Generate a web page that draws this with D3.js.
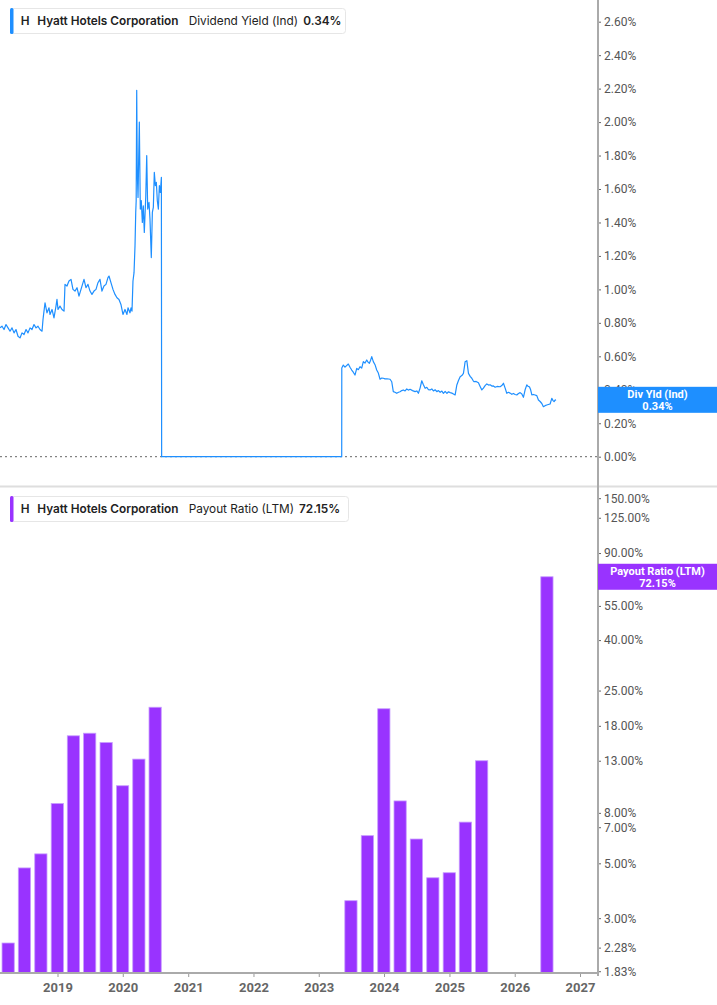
<!DOCTYPE html>
<html>
<head>
<meta charset="utf-8">
<script src="https://cdn.jsdelivr.net/npm/d3@7"></script>
<style>
  body { margin: 0; background: #fff; }
  svg { display: block; }
</style>
</head>
<body>
<div id="chart"></div>
<script>
// Dividend yield (Ind), decimal years -> %
const yieldYears = [
  2018.119, 2018.150, 2018.181, 2018.211, 2018.242, 2018.273, 2018.303, 2018.334, 2018.364, 2018.395,
  2018.426, 2018.456, 2018.487, 2018.518, 2018.548, 2018.579, 2018.609, 2018.640, 2018.671, 2018.701,
  2018.732, 2018.763, 2018.778, 2018.793, 2018.809, 2018.839, 2018.870, 2018.885, 2018.916, 2018.946,
  2018.977, 2018.992, 2019.008, 2019.038, 2019.069, 2019.100, 2019.115, 2019.145, 2019.176, 2019.207,
  2019.237, 2019.268, 2019.299, 2019.329, 2019.360, 2019.406, 2019.436, 2019.467, 2019.498, 2019.528,
  2019.559, 2019.590, 2019.620, 2019.651, 2019.681, 2019.712, 2019.743, 2019.773, 2019.789, 2019.819,
  2019.850, 2019.881, 2019.911, 2019.942, 2019.972, 2020.003, 2020.034, 2020.064, 2020.080, 2020.110,
  2020.126, 2020.141, 2020.156, 2020.172, 2020.187, 2020.198, 2020.205, 2020.213, 2020.222, 2020.233,
  2020.253, 2020.268, 2020.283, 2020.299, 2020.314, 2020.329, 2020.351, 2020.366, 2020.381, 2020.401,
  2020.416, 2020.436, 2020.452, 2020.467, 2020.482, 2020.498, 2020.513, 2020.528, 2020.544, 2020.559,
  2020.574, 2020.590, 2020.594, 2023.352, 2023.353,
  2023.376, 2023.402, 2023.453, 2023.479, 2023.505, 2023.529, 2023.555, 2023.582, 2023.606, 2023.632,
  2023.658, 2023.683, 2023.709, 2023.735, 2023.755, 2023.775, 2023.793, 2023.812, 2023.836, 2023.862,
  2023.888, 2023.913, 2023.939, 2023.965, 2023.990, 2024.015, 2024.046, 2024.092, 2024.118, 2024.142,
  2024.168, 2024.194, 2024.222, 2024.245, 2024.271, 2024.295, 2024.322, 2024.348, 2024.372, 2024.398,
  2024.436, 2024.475, 2024.501, 2024.525, 2024.551, 2024.577, 2024.602, 2024.628, 2024.654, 2024.679,
  2024.704, 2024.730, 2024.755, 2024.781, 2024.807, 2024.832, 2024.858, 2024.884, 2024.908, 2024.934,
  2024.961, 2024.985, 2025.011, 2025.037, 2025.061, 2025.087, 2025.113, 2025.138, 2025.164, 2025.190,
  2025.214, 2025.230, 2025.240, 2025.266, 2025.291, 2025.317, 2025.342, 2025.362, 2025.378, 2025.408,
  2025.444, 2025.470, 2025.496, 2025.520, 2025.546, 2025.572, 2025.600, 2025.623, 2025.649, 2025.673,
  2025.700, 2025.730, 2025.776, 2025.802, 2025.827, 2025.853, 2025.878, 2025.903, 2025.930, 2025.955,
  2025.980, 2026.006, 2026.032, 2026.057, 2026.083, 2026.109, 2026.133, 2026.159, 2026.185, 2026.205,
  2026.225, 2026.244, 2026.262, 2026.286, 2026.312, 2026.338, 2026.363, 2026.389, 2026.415, 2026.439,
  2026.465, 2026.491, 2026.515, 2026.542, 2026.568, 2026.587, 2026.603, 2026.618, 2026.633
];
const yieldValues = [
  0.77, 0.78, 0.76, 0.79, 0.77, 0.75, 0.77, 0.74, 0.76, 0.72,
  0.71, 0.74, 0.73, 0.76, 0.74, 0.77, 0.76, 0.79, 0.77, 0.78,
  0.76, 0.75, 0.82, 0.87, 0.92, 0.86, 0.89, 0.85, 0.88, 0.83,
  0.90, 0.94, 0.88, 0.90, 0.88, 0.87, 1.03, 1.02, 1.05, 1.06,
  1.00, 0.99, 1.01, 0.96, 1.00, 1.06, 1.01, 1.03, 0.99, 0.97,
  0.99, 1.00, 1.04, 1.06, 0.99, 1.02, 1.03, 1.07, 1.08, 1.04,
  1.00, 0.97, 0.95, 0.94, 0.91, 0.85, 0.88, 0.85, 0.89, 0.86,
  0.89, 0.87, 1.05, 1.10, 1.26, 1.46, 1.53, 2.19, 1.70, 1.55,
  2.00, 1.48, 1.53, 1.40, 1.50, 1.34, 1.55, 1.80, 1.48, 1.52,
  1.42, 1.19, 1.46, 1.49, 1.70, 1.62, 1.64, 1.53, 1.48, 1.62,
  1.58, 1.67, 0.00, 0.00, 0.53,
  0.548, 0.535, 0.554, 0.535, 0.518, 0.505, 0.488, 0.528, 0.520, 0.538,
  0.530, 0.568, 0.560, 0.578, 0.565, 0.558, 0.575, 0.598, 0.568, 0.550,
  0.518, 0.500, 0.463, 0.470, 0.469, 0.465, 0.466, 0.463, 0.448, 0.389,
  0.385, 0.379, 0.385, 0.388, 0.395, 0.399, 0.393, 0.405, 0.398, 0.403,
  0.395, 0.389, 0.393, 0.379, 0.410, 0.454, 0.430, 0.409, 0.415, 0.400,
  0.399, 0.405, 0.393, 0.400, 0.389, 0.395, 0.385, 0.392, 0.379, 0.390,
  0.378, 0.388, 0.383, 0.380, 0.375, 0.369, 0.429, 0.455, 0.478, 0.485,
  0.498, 0.540, 0.568, 0.574, 0.498, 0.480, 0.469, 0.455, 0.448, 0.450,
  0.442, 0.420, 0.399, 0.410, 0.425, 0.435, 0.428, 0.430, 0.422, 0.423,
  0.415, 0.420, 0.418, 0.425, 0.439, 0.410, 0.379, 0.385, 0.380, 0.373,
  0.378, 0.372, 0.369, 0.378, 0.383, 0.375, 0.355, 0.400, 0.429, 0.420,
  0.418, 0.400, 0.369, 0.372, 0.369, 0.365, 0.339, 0.330, 0.318, 0.299,
  0.305, 0.309, 0.312, 0.315, 0.349, 0.335, 0.329, 0.338, 0.340
];
const yieldTicks = [0, 0.2, 0.4, 0.6, 0.8, 1.0, 1.2, 1.4, 1.6, 1.8, 2.0, 2.2, 2.4, 2.6];

// Payout ratio (LTM), quarter ends -> %
const payoutDates = [
  "2018-03-31", "2018-06-30", "2018-09-30", "2018-12-31", "2019-03-31",
  "2019-06-30", "2019-09-30", "2019-12-31", "2020-03-31", "2020-06-30",
  "2023-06-30", "2023-09-30", "2023-12-31", "2024-03-31", "2024-06-30",
  "2024-09-30", "2024-12-31", "2025-03-31", "2025-06-30", "2026-06-30"
];
const payoutValues = [
  2.38, 4.79, 5.46, 8.73, 16.4,
  16.8, 15.4, 10.3, 13.2, 21.4,
  3.53, 6.47, 21.1, 8.94, 6.27,
  4.37, 4.58, 7.34, 13.0, 72.15
];
const payoutTicks = [1.83, 2.28, 3, 5, 7, 8, 13, 18, 25, 40, 55, 90, 125, 150];

const yearTicks = [2019, 2020, 2021, 2022, 2023, 2024, 2025, 2026, 2027];

const width = 717, height = 1005;
const axisX = 598;
const blue = "#1e8fff", purple = "#9933ff";

function yearToDate(y) {
    let yr = Math.floor(y);
    let a = new Date(yr, 0, 1), b = new Date(yr + 1, 0, 1);
    return new Date(+a + (y - yr) * (b - a));
}

let svg = d3.select("#chart")
    .append("svg")
        .attr("width", width)
        .attr("height", height)
        .style("font-family", "Roboto, 'Liberation Sans', sans-serif");

let x = d3.scaleTime()
    .domain([new Date(2019, 0, 1), new Date(2027, 0, 1)])
    .range([57.5, 580]);

let yTop = d3.scaleLinear()
    .domain([0, 2.6])
    .range([456.7, 21.7]);

let yBot = d3.scaleLog()
    .domain([1.8, 150])
    .range([973, 498.2]);

svg.append("clipPath").attr("id", "clip-top")
    .append("rect").attr("x", 0).attr("y", 0).attr("width", axisX).attr("height", 485);
svg.append("clipPath").attr("id", "clip-bot")
    .append("rect").attr("x", 0).attr("y", 488).attr("width", axisX).attr("height", 485);

// ---- top panel ----
svg.append("line")
    .attr("x1", 0).attr("x2", axisX)
    .attr("y1", yTop(0)).attr("y2", yTop(0))
    .attr("stroke", "#666")
    .attr("stroke-width", 1)
    .attr("stroke-dasharray", "2,3");

let yieldData = yieldYears.map((t, i) => ({ date: yearToDate(t), value: yieldValues[i] }));

let line = d3.line()
    .x(d => x(d.date))
    .y(d => yTop(d.value));

svg.append("path")
    .datum(yieldData)
    .attr("clip-path", "url(#clip-top)")
    .attr("fill", "none")
    .attr("stroke", blue)
    .attr("stroke-width", 1.2)
    .attr("stroke-linejoin", "round")
    .attr("d", line);

// separator between panels
svg.append("line")
    .attr("x1", 0).attr("x2", width)
    .attr("y1", 486.5).attr("y2", 486.5)
    .attr("stroke", "#dedede")
    .attr("stroke-width", 2);

// ---- bottom panel ----
let payoutData = payoutDates.map((d, i) => ({ date: new Date(d), value: payoutValues[i] }));
let barW = (x(new Date(2019, 3, 1)) - x(new Date(2019, 0, 1))) * 0.76;

svg.append("g")
    .attr("clip-path", "url(#clip-bot)")
    .selectAll("rect")
    .data(payoutData)
    .enter()
    .append("rect")
        .attr("x", d => x(d.date) - barW / 2)
        .attr("y", d => yBot(d.value))
        .attr("width", barW)
        .attr("height", d => yBot.range()[0] - yBot(d.value))
        .attr("fill", purple)
        .attr("stroke", "#c79bff")
        .attr("stroke-width", 0.8);

// x axis
let xAxis = svg.append("g")
    .attr("transform", `translate(0,${yBot.range()[0]})`)
    .call(d3.axisBottom(x)
        .tickValues(yearTicks.map(y => new Date(y, 0, 1)))
        .tickFormat(d3.timeFormat("%Y"))
        .tickSize(4)
        .tickSizeOuter(0));
xAxis.select(".domain").remove();
xAxis.selectAll(".tick line").attr("stroke", "#999");
xAxis.selectAll(".tick text")
    .attr("y", 10)
    .attr("fill", "#666")
    .style("font-size", "13px")
    .style("font-weight", "bold")
    .style("font-family", "Roboto, sans-serif");
svg.append("line")
    .attr("x1", 0).attr("x2", axisX)
    .attr("y1", yBot.range()[0]).attr("y2", yBot.range()[0])
    .attr("stroke", "#aaa")
    .attr("stroke-width", 2);

// right axes
svg.append("line")
    .attr("x1", axisX).attr("x2", axisX)
    .attr("y1", 0).attr("y2", 976)
    .attr("stroke", "#aaa")
    .attr("stroke-width", 2);

function styleRight(g) {
    g.select(".domain").remove();
    g.selectAll(".tick line").attr("stroke", "#666").attr("x1", 1);
    g.selectAll(".tick text")
        .attr("x", 6)
        .attr("fill", "#555")
        .style("font-size", "12px")
        .style("font-family", "Roboto, sans-serif");
}

svg.append("g")
    .attr("transform", `translate(${axisX},0)`)
    .call(d3.axisRight(yTop)
        .tickValues(yieldTicks)
        .tickFormat(d => d.toFixed(2) + "%")
        .tickSize(3))
    .call(styleRight);

svg.append("g")
    .attr("transform", `translate(${axisX},0)`)
    .call(d3.axisRight(yBot)
        .tickValues(payoutTicks)
        .tickFormat(d => d.toFixed(2) + "%")
        .tickSize(3))
    .call(styleRight);

// value flags on the right axis
function flag(yPos, color, title, value) {
    let g = svg.append("g").attr("transform", `translate(${axisX},${yPos})`);
    g.append("rect")
        .attr("x", 0).attr("y", -13)
        .attr("width", width - axisX).attr("height", 26)
        .attr("fill", color);
    g.append("text")
        .attr("x", (width - axisX) / 2).attr("y", -2)
        .attr("text-anchor", "middle")
        .attr("fill", "#fff")
        .style("font-size", "11px")
        .style("font-weight", "bold")
        .text(title);
    g.append("text")
        .attr("x", (width - axisX) / 2).attr("y", 10)
        .attr("text-anchor", "middle")
        .attr("fill", "#fff")
        .style("font-size", "11px")
        .style("font-weight", "bold")
        .text(value);
}
flag(yTop(0.34), blue, "Div Yld (Ind)", "0.34%");
flag(yBot(72.15), purple, "Payout Ratio (LTM)", "72.15%");

// legends
function legend(top, color, metric, value, valueX, boxW) {
    let g = svg.append("g")
        .attr("transform", `translate(10,${top})`)
        .style("font-family", "Inter, sans-serif")
        .style("font-size", "11.8px");
    g.append("rect")
        .attr("x", 0.5).attr("y", 0.5)
        .attr("width", boxW).attr("height", 25)
        .attr("rx", 3)
        .attr("fill", "#fff")
        .attr("stroke", "#e6e6e6");
    g.append("rect")
        .attr("x", 0).attr("y", 0)
        .attr("width", 3.5).attr("height", 26)
        .attr("rx", 1.5)
        .attr("fill", color);
    let items = [
        { x: 10.7, t: "H", w: 600 },
        { x: 27.3, t: "Hyatt Hotels Corporation", w: 600 },
        { x: 178.7, t: metric, w: 400 },
        { x: valueX, t: value, w: 600 }
    ];
    items.forEach(it => {
        g.append("text")
            .attr("x", it.x).attr("y", 17.3)
            .attr("fill", "#222")
            .style("font-weight", it.w)
            .text(it.t);
    });
}
legend(8, blue, "Dividend Yield (Ind)", "0.34%", 293.3, 335);
legend(496, purple, "Payout Ratio (LTM)", "72.15%", 289, 338);
</script>
</body>
</html>
